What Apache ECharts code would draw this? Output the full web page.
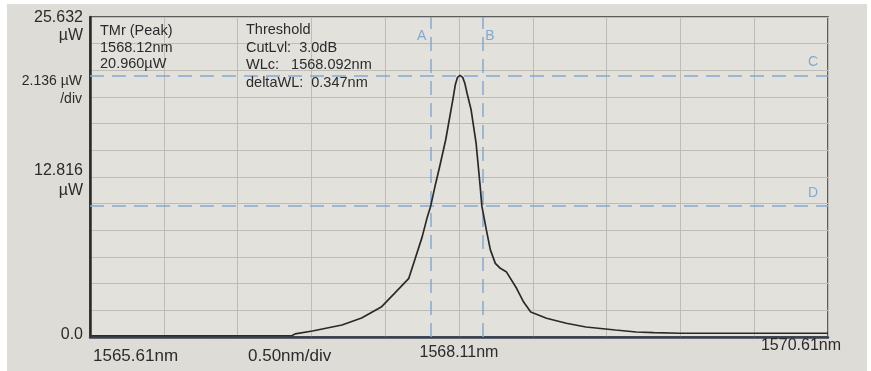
<!DOCTYPE html>
<html><head><meta charset="utf-8">
<script src="https://cdn.jsdelivr.net/npm/echarts@6/dist/echarts.min.js"></script>
<style>html,body{margin:0;padding:0;background:#fff}#c{width:871px;height:371px}</style>
</head><body><div id="c"></div>
<script>
// ---- data ----
const wavelengthNm = [1565.61, 1566.34, 1566.98, 1567.0, 1567.117, 1567.317, 1567.45, 1567.583, 1567.673, 1567.77, 1567.811, 1567.86, 1567.895, 1567.918, 1567.95, 1567.978, 1568.02, 1568.068, 1568.085, 1568.1, 1568.117, 1568.135, 1568.15, 1568.165, 1568.192, 1568.226, 1568.254, 1568.265, 1568.295, 1568.322, 1568.356, 1568.39, 1568.432, 1568.5, 1568.548, 1568.596, 1568.703, 1568.837, 1568.97, 1569.17, 1569.31, 1569.43, 1569.61, 1570.61];
const powerUW     = [0.1,     0.1,     0.12,    0.25,   0.48,     0.96,     1.52,    2.4,      3.5,      4.7,     6.2,      8.0,     9.6,      10.48,    12.2,     13.6,     15.8,    19.0,     20.2,     20.8,    20.96,    20.8,     20.3,     19.5,     18.2,     15.5,     12.0,     10.48,    8.6,      7.0,      5.9,      5.5,     5.2,      3.9,     2.8,      2.0,      1.5,      1.1,      0.8,     0.56,    0.4,     0.35,    0.3,     0.3];
const xStartNm = 1565.61, xEndNm = 1570.61, xDivisions = 10;
const yMaxUW = 25.632, yDivUW = 2.136;
const markerNames = ['A', 'B'];
const markerNm = [1567.918, 1568.265];
const levelNames = ['C', 'D'];
const levelUW = [20.96, 10.48];
const yLabelValues = [25.632, 12.816, 0];
const yLabelTexts = [['25.632', 'µW'], ['12.816', 'µW'], ['0.0']];
const xLabelTexts = ['1565.61nm', '0.50nm/div', '1568.11nm', '1570.61nm'];
const peakInfo = ['TMr (Peak)', '1568.12nm', '20.960µW'];
const thresholdInfo = ['Threshold', 'CutLvl:  3.0dB', 'WLc:   1568.092nm', 'deltaWL:  0.347nm'];
const scaleInfo = ['2.136 µW', '/div'];

const FONT = '"Liberation Sans", Arial, sans-serif';
const TXT = '#2b2b2b';
const BLUE = '#82a9d0';
const chart = echarts.init(document.getElementById('c'));
const G = { left: 90, right: 43, top: 17, bottom: 34 };

chart.setOption({
  animation: false,
  backgroundColor: '#fff',
  grid: { left: G.left, right: G.right, top: G.top, bottom: G.bottom, show: true, backgroundColor: '#e2e1dc', borderColor: '#333', borderWidth: 1.5 },
  xAxis: [
    { type: 'value', min: xStartNm, max: xEndNm, show: true, axisLabel: { show: false }, axisTick: { show: false }, splitLine: { show: false },
      axisLine: { lineStyle: { color: '#394050', width: 2.5 } } },
    { type: 'value', min: 0, max: xDivisions, interval: 1, position: 'bottom', axisLabel: { show: false }, axisTick: { show: false }, axisLine: { show: false },
      splitLine: { show: true, lineStyle: { color: '#bdbcb7', width: 1 } } }
  ],
  yAxis: { type: 'value', min: 0, max: yMaxUW, interval: yDivUW, axisLabel: { show: false }, axisTick: { show: false },
    axisLine: { show: true, lineStyle: { color: '#2a2a2a', width: 2.5 } },
    splitLine: { lineStyle: { color: '#bdbcb7', width: 1 } } },
  series: [
    { type: 'line', xAxisIndex: 0, data: wavelengthNm.map((w, i) => [w, powerUW[i]]), showSymbol: false,
      lineStyle: { color: '#2a2a2a', width: 1.7 }, z: 5,
      markLine: { silent: true, symbol: 'none', label: { show: false },
        lineStyle: { color: BLUE, type: [14, 8], width: 1.5 },
        data: markerNm.map(v => ({ xAxis: v })).concat(levelUW.map(v => ({ yAxis: v }))) } }
  ]
});

function px(x, y) { return chart.convertToPixel({ xAxisIndex: 0, yAxisIndex: 0 }, [x, y]); }
const gfx = [{ type: 'rect', z: -10, shape: { x: 7, y: 4, width: 860, height: 367 }, style: { fill: '#dddcd7' } }];
function txt(x, y, s, size, align, color) {
  gfx.push({ type: 'text', x: x, y: y, z: 20, style: { text: s, font: size + 'px ' + FONT, fill: color || TXT, align: align || 'left', verticalAlign: 'middle' } });
}
// y labels
const yOff = [[1, 19], [-6, 14], [-2]];
yLabelValues.forEach((v, i) => {
  const p = px(xStartNm, v);
  yLabelTexts[i].forEach((t, j) => txt(p[0] - 7, p[1] + yOff[i][j], t, 16, 'right'));
});
const sp = px(xStartNm, 8 * yDivUW);
txt(sp[0] - 8, 81, scaleInfo[0], 14, 'right');
txt(sp[0] - 8, 99, scaleInfo[1], 14, 'right');
// x labels
const bottomY = px(xStartNm, 0)[1];
txt(px(xStartNm, 0)[0] + 3, bottomY + 19, xLabelTexts[0], 17, 'left');
txt(248, bottomY + 19, xLabelTexts[1], 17, 'left');
txt(px(1568.11, 0)[0], bottomY + 16, xLabelTexts[2], 16, 'center');
txt(px(xEndNm, 0)[0] - 27, bottomY + 9, xLabelTexts[3], 16, 'center');
// info text
peakInfo.forEach((t, i) => txt(100, 31 + i * 16.5, t, 14.5, 'left'));
thresholdInfo.forEach((t, i) => txt(246, 30 + i * 17.7, t, 14.5, 'left'));
// marker labels
markerNm.forEach((m, i) => {
  const p = px(m, yMaxUW);
  txt(p[0] + (i === 0 ? -9 : 8), p[1] + 19, markerNames[i], 14, 'center', BLUE);
});
levelUW.forEach((l, i) => {
  const p = px(xEndNm, l);
  txt(p[0] - 15, p[1] - 13, levelNames[i], 14, 'center', BLUE);
});
chart.setOption({ graphic: gfx });
</script></body></html>
